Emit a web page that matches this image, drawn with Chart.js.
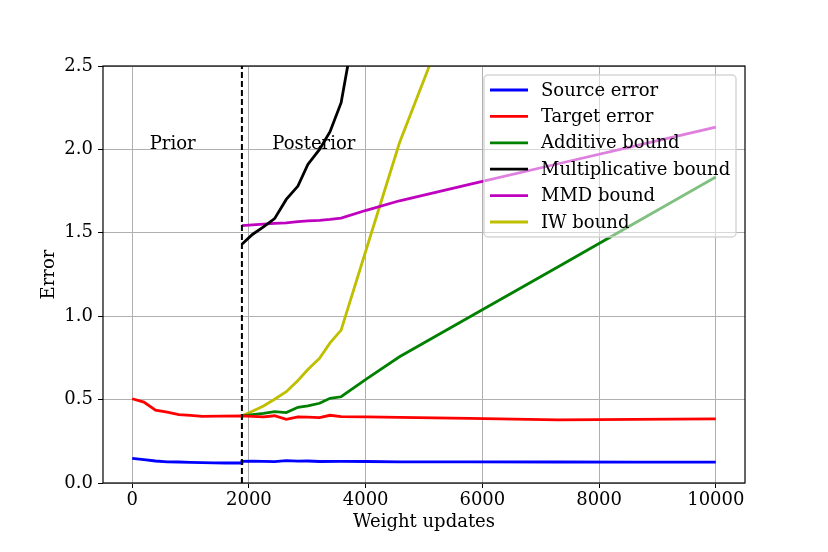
<!DOCTYPE html>
<html>
<head>
<meta charset="utf-8">
<script src="https://cdn.jsdelivr.net/npm/chart.js@4"></script>
<style>
  html, body { margin: 0; padding: 0; background: #fff; }
  #wrap { width: 828px; height: 552px; }
</style>
</head>
<body>
<div id="wrap"><canvas id="errChart" width="828" height="552"></canvas></div>
<script>
// data
const sourceX = [0, 200, 400, 600, 800, 1000, 1200, 1400, 1600, 1870, 1880, 2060, 2250, 2440, 2640, 2840, 3010, 3210, 3580, 4010, 4580, 5780, 7300, 8600, 10000];
const sourceY = [0.147, 0.14, 0.132, 0.127, 0.126, 0.124, 0.122, 0.121, 0.12, 0.12, 0.13, 0.131, 0.13, 0.128, 0.134, 0.131, 0.132, 0.129, 0.13, 0.129, 0.127, 0.127, 0.126, 0.125, 0.125];

const targetX = [0, 200, 400, 600, 800, 1000, 1200, 1500, 1880, 2060, 2250, 2440, 2640, 2840, 3010, 3210, 3390, 3580, 4010, 4580, 5780, 7300, 8600, 10000];
const targetY = [0.505, 0.485, 0.437, 0.425, 0.41, 0.405, 0.40, 0.401, 0.403, 0.40, 0.397, 0.403, 0.382, 0.397, 0.395, 0.392, 0.406, 0.398, 0.396, 0.393, 0.388, 0.379, 0.382, 0.384];

const postX = [1880, 2060, 2250, 2440, 2640, 2840, 3010, 3210, 3390, 3580, 4010, 4580, 5780, 7300, 8600, 10000];
const additiveY = [0.403, 0.41, 0.418, 0.428, 0.422, 0.454, 0.463, 0.478, 0.508, 0.517, 0.623, 0.757, 0.995, 1.297, 1.556, 1.834];
const mmdY = [1.543, 1.548, 1.552, 1.557, 1.56, 1.567, 1.572, 1.575, 1.58, 1.588, 1.635, 1.692, 1.79, 1.914, 2.02, 2.134];

const multX = [1880, 2060, 2250, 2440, 2640, 2840, 3010, 3210, 3390, 3580, 4010];
const multY = [1.431, 1.49, 1.535, 1.585, 1.70, 1.78, 1.91, 2.0, 2.106, 2.28, 3.12];

const iwX = [1880, 2060, 2250, 2440, 2640, 2840, 3010, 3210, 3390, 3580, 4010, 4580, 5780];
const iwY = [0.403, 0.43, 0.462, 0.502, 0.547, 0.615, 0.68, 0.748, 0.84, 0.917, 1.40, 2.04, 3.12];

const xTicks = [0, 2000, 4000, 6000, 8000, 10000];
const yTicks = [0.0, 0.5, 1.0, 1.5, 2.0, 2.5];
const splitAt = 1880;
const regionLabels = [
  { text: "Prior", x: 300, y: 2.0 },
  { text: "Posterior", x: 2400, y: 2.0 }
];

const serif = "'DejaVu Serif', serif";

function pts(xs, ys) {
  return xs.map((x, i) => ({ x: x, y: ys[i] }));
}

function series(label, xs, ys, color) {
  return {
    label: label,
    data: pts(xs, ys),
    borderColor: color,
    backgroundColor: color,
    borderWidth: 2.8,
    pointRadius: 0,
    tension: 0,
    fill: false
  };
}

// dashed split line, region captions, frame and the legend box
const extras = {
  id: "extras",
  afterDatasetsDraw(chart) {
    const ctx = chart.ctx;
    const xs = chart.scales.x, ys = chart.scales.y;
    const area = chart.chartArea;

    ctx.save();
    ctx.strokeStyle = "#000";
    ctx.lineWidth = 2;
    ctx.setLineDash([6, 3]);
    const px = xs.getPixelForValue(splitAt);
    ctx.beginPath();
    ctx.moveTo(px, area.bottom);
    ctx.lineTo(px, area.top);
    ctx.stroke();
    ctx.setLineDash([]);

    ctx.fillStyle = "#000";
    ctx.font = "18px " + serif;
    ctx.textAlign = "left";
    ctx.textBaseline = "alphabetic";
    regionLabels.forEach(r => {
      ctx.fillText(r.text, xs.getPixelForValue(r.x), ys.getPixelForValue(r.y));
    });

    // legend
    const bx = 484, by = 75, bw = 252, bh = 162;
    ctx.beginPath();
    ctx.roundRect(bx, by, bw, bh, 4);
    ctx.fillStyle = "rgba(255,255,255,0.5)";
    ctx.fill();
    ctx.strokeStyle = "rgba(210,210,210,0.9)";
    ctx.lineWidth = 1.5;
    ctx.stroke();
    chart.data.datasets.forEach((ds, i) => {
      const cy = 90 + i * 26.4;
      ctx.strokeStyle = ds.borderColor;
      ctx.lineWidth = 2.8;
      ctx.beginPath();
      ctx.moveTo(490, cy);
      ctx.lineTo(528, cy);
      ctx.stroke();
      ctx.fillStyle = "#000";
      ctx.textBaseline = "middle";
      ctx.fillText(ds.label, 541, cy + 1);
    });

    ctx.strokeStyle = "#000";
    ctx.lineWidth = 1.2;
    ctx.strokeRect(area.left, area.top, area.right - area.left, area.bottom - area.top);
    ctx.restore();
  }
};

const ctx = document.getElementById("errChart");
new Chart(ctx, {
  type: "line",
  data: {
    datasets: [
      series("Source error", sourceX, sourceY, "#0000ff"),
      series("Target error", targetX, targetY, "#ff0000"),
      series("Additive bound", postX, additiveY, "#008000"),
      series("Multiplicative bound", multX, multY, "#000000"),
      series("MMD bound", postX, mmdY, "#bf00bf"),
      series("IW bound", iwX, iwY, "#bfbf00")
    ]
  },
  options: {
    responsive: false,
    animation: false,
    layout: { padding: { left: 0, top: 66, right: 83, bottom: 0 } },
    plugins: {
      legend: { display: false },
      tooltip: { enabled: false }
    },
    scales: {
      x: {
        type: "linear",
        min: -500,
        max: 10500,
        afterBuildTicks: s => { s.ticks = xTicks.map(v => ({ value: v })); },
        afterFit: s => { s.height = 69; },
        grid: { color: "#b0b0b0", lineWidth: 1, tickColor: "#000", tickLength: 5 },
        border: { display: false },
        ticks: { color: "#000", font: { family: serif, size: 18 }, padding: 2, maxRotation: 0, callback: v => String(v) },
        title: { display: true, text: "Weight updates", color: "#000", font: { family: serif, size: 18 }, padding: { bottom: 19 } }
      },
      y: {
        min: 0,
        max: 2.5,
        afterBuildTicks: s => { s.ticks = yTicks.map(v => ({ value: v })); },
        afterFit: s => { s.width = 103; },
        grid: { color: "#b0b0b0", lineWidth: 1, tickColor: "#000", tickLength: 5 },
        border: { display: false },
        ticks: { color: "#000", font: { family: serif, size: 18 }, padding: 5, callback: v => v.toFixed(1) },
        title: { display: true, text: "Error", color: "#000", font: { family: serif, size: 18 }, padding: { top: 39 } }
      }
    }
  },
  plugins: [extras]
});
</script>
</body>
</html>
